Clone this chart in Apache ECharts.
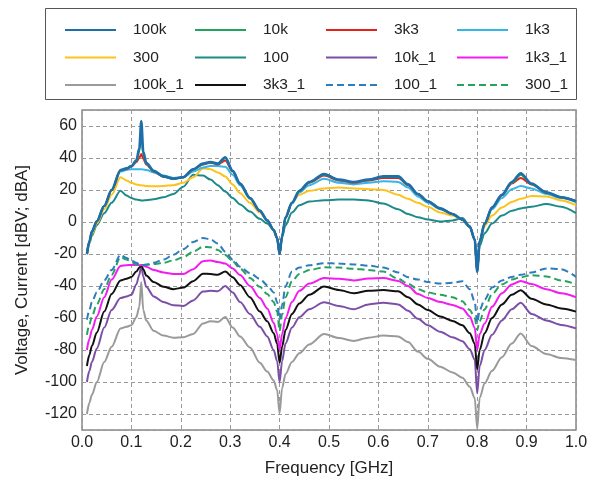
<!DOCTYPE html>
<html>
<head>
<meta charset="utf-8">
<script src="https://cdn.jsdelivr.net/npm/echarts@6/dist/echarts.min.js"></script>
<style>
  html, body { margin: 0; padding: 0; background: #fff; }
  #chart { width: 597px; height: 484px; }
</style>
</head>
<body>
<div id="chart"></div>
<script>
// frequency points [GHz]
const freq = [0.01, 0.015, 0.02, 0.03, 0.045, 0.06, 0.078, 0.09, 0.1, 0.11,
  0.116, 0.12, 0.124, 0.13, 0.145, 0.165, 0.185, 0.205, 0.225, 0.245,
  0.26, 0.275, 0.29, 0.305, 0.32, 0.34, 0.36, 0.375, 0.388, 0.395,
  0.4, 0.405, 0.412, 0.425, 0.44, 0.46, 0.49, 0.52, 0.55, 0.58,
  0.61, 0.64, 0.66, 0.68, 0.7, 0.725, 0.75, 0.77, 0.785, 0.795,
  0.8, 0.805, 0.815, 0.83, 0.85, 0.87, 0.888, 0.91, 0.94, 0.97, 1.0];

// voltage curves [dBV]
const v100k = [-20, -12, -6, 0.5, 10, 20, 32.5, 33.5, 35, 38.5,
  46, 63, 44, 37, 32, 28.5, 27, 28, 33, 36.5,
  37.5, 36.5, 40.5, 32, 24, 15, 7, 1, -5, -10,
  -20, -9, 3, 12, 19.5, 25, 30, 26.5, 25, 26.5,
  28.5, 28.5, 23.5, 17.5, 13, 8.5, 5, 1.5, -3, -11,
  -31, -12, -1, 9, 17, 25, 30.5, 24, 18.5, 15.5, 13];
const v10k = [-20, -12, -6, 0.5, 10, 20, 32.3, 33.3, 34.8, 38,
  44, 56, 42, 36.5, 31.8, 28.4, 27, 28, 32.8, 36.3,
  37.3, 36.3, 40, 31.8, 24, 15, 7, 1, -5, -10,
  -20, -9, 3, 12, 19.5, 24.8, 29.7, 26.3, 24.8, 26.3,
  28.3, 28.2, 23.3, 17.5, 13, 8.5, 5, 1.5, -3, -11,
  -31, -12, -1, 9, 16.8, 24.5, 29.5, 23.8, 18.5, 15.5, 13];
const v3k3 = [-20, -12, -6, 0.5, 10, 20, 32.3, 33.2, 34.5, 37.5,
  40, 42.5, 39.5, 36, 31.5, 28.3, 27, 28, 32.8, 36,
  37, 36, 38.5, 31.5, 24, 15, 7, 1, -5, -10,
  -20, -9, 3, 12, 19.3, 24.5, 29, 26, 24.5, 26,
  27.5, 27.5, 23, 17.3, 13, 8.5, 5, 1.5, -3, -11,
  -31, -12, -1, 9, 16.5, 24, 27.5, 23.5, 18.3, 15.3, 13];
const v1k3 = [-20, -12, -6, 0.5, 10, 20, 31.5, 32.5, 33, 33,
  33, 33, 32.8, 32.5, 31, 29, 27.5, 28, 31.5, 34,
  35, 35, 34.5, 29.5, 23, 14.5, 7, 1, -5, -10,
  -20, -9, 2.5, 11.5, 18.5, 23, 27, 24.5, 23.5, 24.5,
  25.5, 25, 21.5, 16, 12, 8, 5, 1.5, -3, -11,
  -31, -12, -1.5, 8, 15, 20.5, 22.5, 21, 17.5, 15, 12.5];
const v300 = [-20, -13, -7.5, -1, 8, 17, 28, 26, 24.5, 23.5,
  23, 23, 22.8, 22.5, 22.3, 22.5, 23, 24.5, 28, 33.5,
  33, 31, 28.5, 23.5, 18, 12, 6, 1, -5, -10,
  -20, -9, 2, 12, 17, 19.5, 21, 21.5, 21, 20.5,
  20, 17, 14.5, 12, 9.5, 6, 4, 1.5, -3, -11,
  -31, -12, -2.5, 4, 9, 12.5, 14.5, 16.3, 16, 13.5, 10.5];
const v100 = [-20, -13.5, -8.5, -2, 5.5, 12, 19.5, 16.5, 15, 14,
  13.7, 13.5, 13.5, 13.6, 14.2, 15.5, 17.5, 22, 29.5, 29,
  26.5, 23, 19, 15, 11, 6.5, 2, -1, -5, -10,
  -20, -9.5, -2, 6, 10.5, 12.8, 13.6, 14, 14, 13.5,
  11.5, 8, 5, 3, 1.5, 0.3, 1, 2.5, -2.5, -11,
  -31, -15, -7, -1, 4, 7, 8.5, 9.5, 11.3, 9.5, 5.5];

// current curves [dBA]
const v10k_1 = [-100, -93, -87.5, -79, -66, -55, -47.5, -46.5, -45.5, -39,
  -33, -27, -34, -40.5, -46.5, -50, -52, -52.5, -49, -43.5,
  -43, -43.3, -40, -44, -50, -57.5, -65.5, -71.5, -80, -87,
  -100, -87, -76, -66, -59.5, -54.5, -50.2, -52.5, -54.5, -51.5,
  -50.5, -51.5, -55.5, -60.5, -64.5, -68.6, -72, -74.5, -79.5, -86,
  -107, -90, -80, -70.5, -61.5, -54.5, -50.5, -57.5, -61.5, -64.3, -66.5];
const v1k3_1 = [-80, -73, -67.5, -59, -47, -36, -27.5, -27, -26.8, -26.8,
  -27, -27, -27.2, -28, -30, -31.5, -32.5, -32.5, -29.5, -24.5,
  -24, -25, -26, -29, -33.2, -40, -47.5, -54, -63, -70,
  -80, -70, -60, -50, -43, -38.5, -35, -35.5, -36.5, -35.3,
  -35, -36.8, -40, -45, -47.5, -50, -51.8, -54, -59, -66,
  -80, -70, -63.5, -53, -44.5, -39, -36.8, -38.8, -42, -44.5, -47];
const v100k_1 = [-120, -113, -108, -100, -87.5, -78, -66.5, -65.5, -64.5, -59.5,
  -53, -37.5, -55, -61.5, -68, -71, -72.3, -72, -70, -63.5,
  -62, -62.5, -59.3, -66, -71.6, -78.5, -88, -93.5, -99, -105,
  -119.5, -104, -95, -87.5, -82, -76.5, -70, -72.5, -74.3, -72.3,
  -71, -71.5, -75, -81, -85.5, -90.4, -94, -97.3, -103, -110,
  -129, -110, -100.8, -93, -84.5, -76, -69.7, -77.5, -82.5, -85, -86.3];
const v3k3_1 = [-90, -83, -77.5, -69, -56, -45, -36.5, -35.5, -34.3, -31,
  -28.5, -27, -29.5, -33.5, -37.5, -40.5, -42, -41, -37, -32.3,
  -32.5, -33, -31, -34.5, -39.4, -47, -56, -62, -69.5, -76,
  -88, -78, -67.5, -57.5, -51, -45.5, -40.3, -42.5, -44.5, -43,
  -42.5, -43.3, -47, -51.5, -55, -59, -61.8, -64.5, -69.5, -76,
  -92, -80, -69.5, -60, -51.5, -45.5, -42.6, -48, -51.5, -54, -56];
const v100_1 = [-61, -55, -50, -44, -36.5, -30, -20.5, -22.5, -24, -25.5,
  -26.5, -27, -26.8, -26.5, -25.5, -23.5, -20.5, -17, -12.5, -10,
  -10.8, -13.5, -18.5, -23.5, -28, -32, -35.5, -39.5, -44, -50,
  -61, -52, -40, -31, -28.5, -27, -25.7, -26, -26.5, -27.3,
  -28.5, -31.5, -34.5, -36, -37.5, -38.5, -38, -37, -42, -50,
  -63, -55, -48.5, -41, -36.5, -34.3, -33, -31.5, -29, -29.5, -34.3];
const v300_1 = [-70.5, -64, -59, -51.5, -42, -33, -22, -23.5, -25, -26.3,
  -26.8, -27, -27, -26.8, -26.3, -25.5, -24, -22, -18.5, -15.5,
  -15.8, -17.5, -20.7, -24.5, -29, -35, -40.5, -45, -50, -56,
  -68, -58, -47, -37, -32.5, -30, -28.3, -28.5, -29.2, -30,
  -31, -35.5, -38.5, -42, -44, -45.5, -47, -49.5, -55, -60,
  -67.5, -62, -54.5, -45, -39, -36, -34.5, -33.2, -34, -36.5, -39];

// legend columns (row-major order of the original legend)
const legendCols = [
  ['100k', '300', '100k_1'],
  ['10k', '100', '3k3_1'],
  ['3k3', '10k_1', '100_1'],
  ['1k3', '1k3_1', '300_1']
];
const legendLeft = [64, 194, 325, 456];

// draw order: lower group first, 100k last (on top)
const curves = [
  { name: '100k_1', values: v100k_1, color: '#9a9a9a', width: 2, dash: 'solid' },
  { name: '10k_1', values: v10k_1, color: '#7c4fa6', width: 2, dash: 'solid' },
  { name: '3k3_1', values: v3k3_1, color: '#111111', width: 2, dash: 'solid' },
  { name: '1k3_1', values: v1k3_1, color: '#f31cf0', width: 2, dash: 'solid' },
  { name: '300_1', values: v300_1, color: '#25a35e', width: 2, dash: [7, 4] },
  { name: '100_1', values: v100_1, color: '#2d7cbb', width: 2, dash: [7, 4] },
  { name: '100', values: v100, color: '#1d8a8a', width: 2, dash: 'solid' },
  { name: '300', values: v300, color: '#fbc31c', width: 2, dash: 'solid' },
  { name: '1k3', values: v1k3, color: '#35b6e6', width: 2, dash: 'solid' },
  { name: '3k3', values: v3k3, color: '#e2231a', width: 2, dash: 'solid' },
  { name: '10k', values: v10k, color: '#22a45c', width: 2, dash: 'solid' },
  { name: '100k', values: v100k, color: '#1e6eaa', width: 2.6, dash: 'solid' }
];

const FONT = 'Liberation Sans, Arial, sans-serif';

const chart = echarts.init(document.getElementById('chart'), null, { renderer: 'canvas' });

const series = curves.map(c => ({
  name: c.name,
  type: 'line',
  symbol: 'none',
  smooth: 0.3,
  smoothMonotone: 'x',
  color: c.color,
  lineStyle: { color: c.color, width: c.width, type: c.dash },
  data: freq.map((f, i) => [f, c.values[i]]),
  animation: false
}));

// one vertical legend per column so the columns line up
const legends = legendCols.map((names, i) => ({
  orient: 'vertical',
  left: legendLeft[i],
  top: 22,
  itemWidth: 51,
  itemHeight: 14,
  itemGap: 11.5,
  padding: 0,
  selectedMode: false,
  data: names,
  itemStyle: { color: 'rgba(0,0,0,0)', borderWidth: 0, opacity: 0 },
  lineStyle: { width: 2 },
  textStyle: { fontFamily: FONT, fontSize: 15.5, color: '#222', padding: [0, 0, 0, 12] }
}));

chart.setOption({
  backgroundColor: '#fff',
  animation: false,
  graphic: [{
    type: 'rect',
    left: 45, top: 8,
    shape: { width: 531, height: 91 },
    style: { fill: '#fff', stroke: '#555', lineWidth: 1 },
    z: -10
  }],
  legend: legends,
  grid: {
    left: 82, right: 21, top: 110, bottom: 54,
    show: true, borderColor: '#888', borderWidth: 1.5, backgroundColor: '#fff'
  },
  xAxis: {
    type: 'value',
    min: 0, max: 1, interval: 0.1,
    name: 'Frequency [GHz]',
    nameLocation: 'middle',
    nameGap: 30,
    nameTextStyle: { fontFamily: FONT, fontSize: 17, color: '#222' },
    axisLine: { show: false },
    axisTick: { show: false },
    axisLabel: {
      fontFamily: FONT, fontSize: 16, color: '#222', margin: 5,
      formatter: v => v.toFixed(1)
    },
    splitLine: { show: true, lineStyle: { color: '#9a9a9a', type: [4, 3], width: 1 } }
  },
  yAxis: {
    type: 'value',
    min: -130, max: 70, splitNumber: 10,
    name: 'Voltage, Current [dBV; dBA]',
    nameLocation: 'middle',
    nameGap: 51,
    nameTextStyle: { fontFamily: FONT, fontSize: 17, color: '#222' },
    axisLine: { show: false },
    axisTick: { show: false },
    axisLabel: {
      fontFamily: FONT, fontSize: 16, color: '#222', margin: 5,
      showMinLabel: true, showMaxLabel: true,
      formatter: v => (v % 20 === 0 ? String(v) : '')
    },
    splitLine: { show: true, lineStyle: { color: '#9a9a9a', type: [4, 3], width: 1 } }
  },
  series: series
});
</script>
</body>
</html>
